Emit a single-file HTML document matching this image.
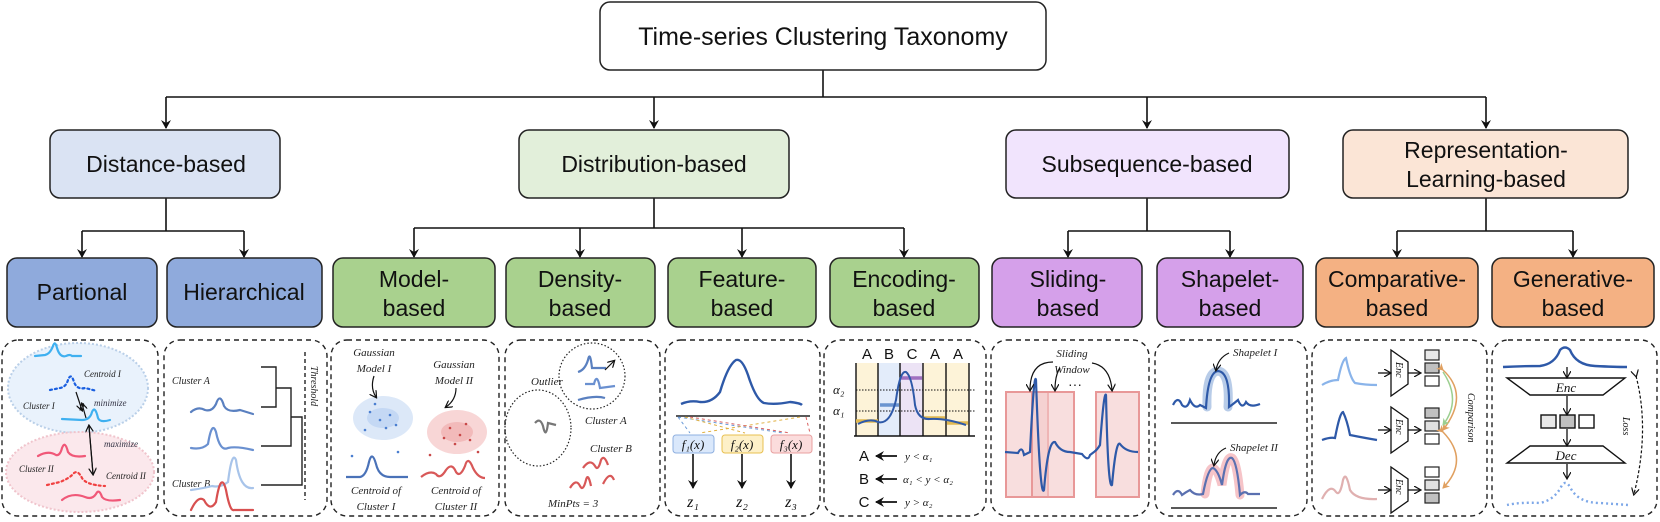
<!DOCTYPE html>
<html><head><meta charset="utf-8"><style>
html,body{margin:0;padding:0;background:#fff;}
svg{display:block;font-family:"Liberation Sans",Arial,sans-serif;}
.it{font-family:"Liberation Serif",serif;font-style:italic;}
</style></head><body>
<svg width="1660" height="522" viewBox="0 0 1660 522" xmlns="http://www.w3.org/2000/svg">
<defs>
<marker id="ah" markerWidth="10" markerHeight="10" refX="8" refY="5" orient="auto" markerUnits="userSpaceOnUse"><path d="M0,0 L9,5 L0,10 L3,5 Z" fill="#111"/></marker>
<marker id="sa" markerWidth="8" markerHeight="8" refX="6" refY="4" orient="auto" markerUnits="userSpaceOnUse"><path d="M0,0 L7,4 L0,8" fill="none" stroke="#111" stroke-width="1.2"/></marker>
<marker id="oa" markerWidth="8" markerHeight="8" refX="6" refY="4" orient="auto" markerUnits="userSpaceOnUse"><path d="M0,0 L7,4 L0,8 L2,4Z" fill="#e0a060"/></marker>
<marker id="ga" markerWidth="8" markerHeight="8" refX="6" refY="4" orient="auto" markerUnits="userSpaceOnUse"><path d="M0,0 L7,4 L0,8 L2,4Z" fill="#9ccf90"/></marker>
</defs>
<g stroke="#111" stroke-width="1.6" fill="none">
<!-- top connectors -->
<line x1="823" y1="70" x2="823" y2="97"/>
<line x1="166" y1="97" x2="1486" y2="97"/>
<line x1="166" y1="97" x2="166" y2="128" marker-end="url(#ah)"/>
<line x1="654" y1="97" x2="654" y2="128" marker-end="url(#ah)"/>
<line x1="1147" y1="97" x2="1147" y2="128" marker-end="url(#ah)"/>
<line x1="1486" y1="97" x2="1486" y2="128" marker-end="url(#ah)"/>
<!-- level 2 to 3 -->
<line x1="166" y1="198" x2="166" y2="231"/><line x1="82" y1="231" x2="244" y2="231"/>
<line x1="82" y1="231" x2="82" y2="257" marker-end="url(#ah)"/><line x1="244" y1="231" x2="244" y2="257" marker-end="url(#ah)"/>
<line x1="654" y1="198" x2="654" y2="228"/><line x1="414" y1="228" x2="904" y2="228"/>
<line x1="414" y1="228" x2="414" y2="257" marker-end="url(#ah)"/><line x1="580" y1="228" x2="580" y2="257" marker-end="url(#ah)"/>
<line x1="742" y1="228" x2="742" y2="257" marker-end="url(#ah)"/><line x1="904" y1="228" x2="904" y2="257" marker-end="url(#ah)"/>
<line x1="1147" y1="198" x2="1147" y2="231"/><line x1="1068" y1="231" x2="1230" y2="231"/>
<line x1="1068" y1="231" x2="1068" y2="257" marker-end="url(#ah)"/><line x1="1230" y1="231" x2="1230" y2="257" marker-end="url(#ah)"/>
<line x1="1486" y1="198" x2="1486" y2="231"/><line x1="1397" y1="231" x2="1573" y2="231"/>
<line x1="1397" y1="231" x2="1397" y2="257" marker-end="url(#ah)"/><line x1="1573" y1="231" x2="1573" y2="257" marker-end="url(#ah)"/>
</g>
<!-- boxes -->
<g stroke="#222" stroke-width="1.5">
<rect x="600" y="2" width="446" height="68" rx="10" fill="#fff"/>
<rect x="50" y="130" width="230" height="68" rx="10" fill="#dae3f3"/>
<rect x="519" y="130" width="270" height="68" rx="10" fill="#e2efda"/>
<rect x="1006" y="130" width="283" height="68" rx="10" fill="#f1e4fd"/>
<rect x="1343" y="130" width="285" height="68" rx="10" fill="#fbe5d6"/>
<rect x="7" y="258" width="150" height="69" rx="10" fill="#8faadc"/>
<rect x="167" y="258" width="155" height="69" rx="10" fill="#8faadc"/>
<rect x="333" y="258" width="162" height="69" rx="10" fill="#a9d18e"/>
<rect x="506" y="258" width="149" height="69" rx="10" fill="#a9d18e"/>
<rect x="668" y="258" width="148" height="69" rx="10" fill="#a9d18e"/>
<rect x="830" y="258" width="149" height="69" rx="10" fill="#a9d18e"/>
<rect x="992" y="258" width="150" height="69" rx="10" fill="#d5a0ea"/>
<rect x="1157" y="258" width="146" height="69" rx="10" fill="#d5a0ea"/>
<rect x="1316" y="258" width="162" height="69" rx="10" fill="#f4b183"/>
<rect x="1492" y="258" width="162" height="69" rx="10" fill="#f4b183"/>
</g>
<g fill="#111" text-anchor="middle">
<text x="823" y="45" font-size="25">Time-series Clustering Taxonomy</text>
<text x="166" y="172" font-size="23">Distance-based</text>
<text x="654" y="172" font-size="23">Distribution-based</text>
<text x="1147" y="172" font-size="23">Subsequence-based</text>
<text x="1486" y="158" font-size="23">Representation-</text>
<text x="1486" y="187" font-size="23">Learning-based</text>
<g font-size="23">
<text x="82" y="300">Partional</text>
<text x="244" y="300">Hierarchical</text>
<text x="414" y="287">Model-</text><text x="414" y="316">based</text>
<text x="580" y="287">Density-</text><text x="580" y="316">based</text>
<text x="742" y="287">Feature-</text><text x="742" y="316">based</text>
<text x="904" y="287">Encoding-</text><text x="904" y="316">based</text>
<text x="1068" y="287">Sliding-</text><text x="1068" y="316">based</text>
<text x="1230" y="287">Shapelet-</text><text x="1230" y="316">based</text>
<text x="1397" y="287">Comparative-</text><text x="1397" y="316">based</text>
<text x="1573" y="287">Generative-</text><text x="1573" y="316">based</text>
</g></g>
<!-- dashed panels -->
<g fill="none" stroke="#222" stroke-width="1.4" stroke-dasharray="5,4">
<rect x="2" y="340" width="156" height="176" rx="16"/>
<rect x="164" y="340" width="163" height="176" rx="16"/>
<rect x="331" y="340" width="168" height="176" rx="16"/>
<rect x="505" y="340" width="155" height="176" rx="16"/>
<rect x="665" y="340" width="155" height="176" rx="16"/>
<rect x="824" y="340" width="162" height="176" rx="16"/>
<rect x="991" y="340" width="158" height="176" rx="16"/>
<rect x="1155" y="340" width="152" height="176" rx="16"/>
<rect x="1312" y="340" width="175" height="176" rx="16"/>
<rect x="1492" y="340" width="165" height="176" rx="16"/>
</g>
<!-- Panel 1 -->
<ellipse cx="78" cy="388" rx="70" ry="45" fill="#e9f2fc" stroke="#b9cfe8" stroke-width="2" stroke-dasharray="2,2"/>
<ellipse cx="80" cy="472" rx="74" ry="40" fill="#fbe8ec" stroke="#f0c4cc" stroke-width="2" stroke-dasharray="2,2"/>
<g fill="none" stroke-width="2.2" stroke-linecap="round">
<path d="M35,356 L45,355 Q50,354 53,346 Q55,340 57,348 Q60,358 66,356 Q70,354 72,356 L81,356" stroke="#3fb0f0"/>
<path d="M50,390 L60,388 Q66,387 68,380 Q71,372 74,382 Q77,390 85,388 L97,391" stroke="#1a5fe0" stroke-dasharray="2,3"/>
<path d="M62,419 L82,420 Q90,420 92,412 Q95,405 98,418 Q100,423 110,420" stroke="#3fb0f0"/>
<path d="M38,456 Q48,450 56,455 Q60,456 62,448 Q65,440 68,452 Q72,458 85,456" stroke="#f05878"/>
<path d="M47,485 L60,482 Q70,478 74,473 Q78,470 82,478 Q86,485 105,486" stroke="#f04040" stroke-dasharray="2,3"/>
<path d="M62,500 Q72,492 85,497 Q92,500 96,494 Q99,488 102,497 Q106,502 120,500" stroke="#f05878"/>
</g>
<g stroke="#111" stroke-width="1.2" fill="none">
<line x1="76" y1="392" x2="82" y2="410" marker-end="url(#sa)"/>
<line x1="86" y1="418" x2="82" y2="404" marker-end="url(#sa)"/>
<line x1="89" y1="426" x2="93" y2="474" marker-end="url(#sa)"/>
<line x1="93" y1="474" x2="89" y2="426" marker-end="url(#sa)"/>
</g>
<g class="it" font-size="9" fill="#222">
<text x="84" y="377">Centroid I</text><text x="23" y="409">Cluster  I</text>
<text x="94" y="406" fill="#334">minimize</text><text x="104" y="447" fill="#334">maximize</text>
<text x="19" y="472">Cluster  II</text><text x="106" y="479">Centroid II</text>
</g>
<!-- Panel 2 -->
<g class="it" font-size="10" fill="#222"><text x="172" y="384">Cluster A</text><text x="172" y="520" dy="-33">Cluster B</text></g>
<text class="it" font-size="10" fill="#222" transform="translate(311,366) rotate(90)">Threshold</text>
<g fill="none" stroke-width="2.2" stroke-linecap="round">
<path d="M191,412 Q198,406 205,410 Q212,412 216,404 Q220,392 224,406 Q228,413 240,410 L253,414" stroke="#5a80c0"/>
<path d="M191,448 Q202,450 208,444 Q212,420 216,432 Q220,452 228,448 Q236,446 253,450" stroke="#6a90d0"/>
<path d="M191,490 Q205,488 212,486 Q220,488 228,482 Q232,450 236,460 Q240,490 253,488" stroke="#a8c4ea"/>
<path d="M191,510 Q198,495 204,500 Q210,512 216,502 Q221,470 226,490 Q230,512 234,510 L253,510" stroke="#d85050"/>
</g>
<g stroke="#222" stroke-width="1.4" fill="none">
<polyline points="261,367 276,367 276,407 261,407"/>
<polyline points="276,388 291,388 291,446 261,446"/>
<polyline points="291,417 302,417 302,485 261,485"/>
<line x1="302" y1="500" x2="302" y2="500"/>
<line x1="305" y1="352" x2="305" y2="500" stroke-dasharray="4,3"/>
</g>
<!-- Panel 3 -->
<g class="it" font-size="11" fill="#222" text-anchor="middle">
<text x="374" y="356">Gaussian</text><text x="374" y="372">Model I</text>
<text x="454" y="368">Gaussian</text><text x="454" y="384">Model II</text>
<text x="376" y="494">Centroid of</text><text x="376" y="510">Cluster I</text>
<text x="456" y="494">Centroid of</text><text x="456" y="510">Cluster II</text>
</g>
<ellipse cx="383" cy="418" rx="30" ry="22" fill="#dce8f8"/><ellipse cx="383" cy="418" rx="16" ry="10" fill="#c4d8f4"/>
<ellipse cx="457" cy="432" rx="30" ry="22" fill="#f8d6d6"/><ellipse cx="457" cy="432" rx="16" ry="10" fill="#f2baba"/>
<g fill="#4a7ed0"><circle cx="370" cy="412" r="1.3"/><circle cx="380" cy="420" r="1.3"/><circle cx="390" cy="415" r="1.3"/><circle cx="386" cy="428" r="1.3"/><circle cx="375" cy="404" r="1.3"/><circle cx="396" cy="425" r="1.3"/><circle cx="365" cy="430" r="1.3"/><circle cx="352" cy="456" r="1.3"/><circle cx="398" cy="452" r="1.3"/></g>
<g fill="#c84848"><circle cx="450" cy="428" r="1.3"/><circle cx="460" cy="435" r="1.3"/><circle cx="466" cy="424" r="1.3"/><circle cx="455" cy="444" r="1.3"/><circle cx="470" cy="440" r="1.3"/><circle cx="444" cy="438" r="1.3"/><circle cx="430" cy="455" r="1.3"/><circle cx="478" cy="452" r="1.3"/></g>
<g fill="none" stroke="#111" stroke-width="1.2"><path d="M374,376 Q370,388 376,397" marker-end="url(#sa)"/><path d="M456,388 Q456,400 446,407" marker-end="url(#sa)"/></g>
<g fill="none" stroke-width="2.2"><path d="M346,477 L360,477 Q366,476 369,462 Q372,450 376,464 Q379,477 390,477 L408,477" stroke="#4a72b8"/>
<path d="M421,477 Q430,470 436,474 Q440,480 446,470 Q452,462 456,472 Q460,478 465,466 Q468,455 473,468 Q478,478 485,478" stroke="#d85858"/></g>
<!-- Panel 4 -->
<ellipse cx="538" cy="428" rx="33" ry="38" fill="none" stroke="#222" stroke-width="1.2" stroke-dasharray="1.5,2"/>
<circle cx="592" cy="376" r="33" fill="none" stroke="#222" stroke-width="1.2" stroke-dasharray="1.5,2"/>
<g class="it" font-size="11" fill="#222"><text x="531" y="385">Outlier</text><text x="585" y="424">Cluster A</text><text x="590" y="452">Cluster B</text><text x="548" y="507">MinPts = 3</text></g>
<g fill="none" stroke-width="2.2"><path d="M535,423 Q540,417 543,426 Q546,440 548,423 L556,425" stroke="#777"/>
<path d="M578,372 Q585,370 588,360 Q590,350 592,368 L606,368" stroke="#5a80c0"/>
<path d="M585,384 L594,384 Q597,372 600,388 L615,386" stroke="#6a90d0"/>
<path d="M578,400 Q595,395 605,398" stroke="#5a80c0"/>
<path d="M583,468 Q590,458 595,466 Q598,472 601,460 Q604,454 608,465" stroke="#d85858"/>
<path d="M570,488 Q576,478 580,486 Q583,492 586,480 Q588,472 591,486" stroke="#d85858"/>
<path d="M603,484 Q610,470 614,480" stroke="#d85858"/></g>
<line x1="605" y1="370" x2="614" y2="361" stroke="#111" stroke-width="1.2" marker-end="url(#sa)"/>
<!-- Panel 5 -->
<path d="M681,404 Q690,400 700,402 Q712,403 720,392 Q728,365 736,360 Q742,358 748,375 Q756,400 764,403 Q775,405 790,402 Q800,403 802,405" fill="none" stroke="#2e59a8" stroke-width="2.4"/>
<line x1="676" y1="416" x2="810" y2="416" stroke="#222" stroke-width="1.6"/>
<g stroke-width="1" stroke-dasharray="3,3" fill="none"><path d="M678,417 L690,433 M678,417 L783,433" stroke="#6a9ad8"/><path d="M685,417 L745,433 M800,417 L700,433" stroke="#e0b040"/><path d="M690,417 L790,433 M806,417 L810,433" stroke="#d86060"/></g>
<rect x="673" y="435" width="41" height="18" rx="3" fill="#dae8fb" stroke="#8fb0e0"/>
<rect x="722" y="435" width="41" height="18" rx="3" fill="#fdf0c8" stroke="#e8c050"/>
<rect x="771" y="435" width="41" height="18" rx="3" fill="#fbdcdc" stroke="#e8a0a0"/>
<g class="it" font-size="13" fill="#111" text-anchor="middle"><text x="693" y="449">f₁(x)</text><text x="742" y="449">f₂(x)</text><text x="791" y="449">f₃(x)</text>
<text x="693" y="507" font-size="16">z₁</text><text x="742" y="507" font-size="16">z₂</text><text x="791" y="507" font-size="16">z₃</text></g>
<g stroke="#111" stroke-width="1.6"><line x1="693" y1="454" x2="693" y2="488" marker-end="url(#ah)"/><line x1="742" y1="454" x2="742" y2="488" marker-end="url(#ah)"/><line x1="791" y1="454" x2="791" y2="488" marker-end="url(#ah)"/></g>
<!-- Panel 6 -->
<rect x="856" y="363" width="22" height="73" fill="#fdf3d8"/><rect x="878" y="363" width="22" height="73" fill="#e3ecfa"/><rect x="900" y="363" width="23" height="73" fill="#ece3f5"/><rect x="923" y="363" width="23" height="73" fill="#fdf3d8"/><rect x="946" y="363" width="23" height="73" fill="#fdf3d8"/>
<g stroke="#111" stroke-width="1.4"><line x1="856" y1="363" x2="856" y2="436"/><line x1="878" y1="363" x2="878" y2="436"/><line x1="900" y1="363" x2="900" y2="436"/><line x1="923" y1="363" x2="923" y2="436"/><line x1="946" y1="363" x2="946" y2="436"/><line x1="969" y1="363" x2="969" y2="436"/><line x1="854" y1="436" x2="975" y2="436"/></g>
<g stroke="#111" stroke-width="1" stroke-dasharray="1.5,1.5"><line x1="856" y1="390" x2="975" y2="390"/><line x1="856" y1="411" x2="975" y2="411"/></g>
<g stroke-width="3.5"><line x1="856" y1="421" x2="878" y2="421" stroke="#e0b850"/><line x1="880" y1="405" x2="899" y2="405" stroke="#6a94d0"/><line x1="901" y1="378" x2="922" y2="378" stroke="#a070c0"/><line x1="924" y1="418" x2="945" y2="418" stroke="#e0b850"/><line x1="947" y1="423" x2="968" y2="423" stroke="#e0b850"/></g>
<path d="M858,424 Q870,418 878,422 Q890,425 896,400 Q900,370 906,372 Q912,376 915,405 Q918,420 930,419 Q945,418 966,425" fill="none" stroke="#2e59a8" stroke-width="2"/>
<g font-size="15" fill="#111" text-anchor="middle"><text x="867" y="359">A</text><text x="889" y="359">B</text><text x="912" y="359">C</text><text x="935" y="359">A</text><text x="958" y="359">A</text>
<text x="864" y="461">A</text><text x="864" y="484">B</text><text x="864" y="507">C</text></g>
<g class="it" font-size="13" fill="#111"><text x="833" y="394">α₂</text><text x="833" y="415">α₁</text>
<text x="905" y="460" font-size="11">y &lt; α₁</text><text x="903" y="483" font-size="11">α₁ &lt; y &lt; α₂</text><text x="905" y="506" font-size="11">y &gt; α₂</text></g>
<g stroke="#111" stroke-width="1.8"><line x1="897" y1="456" x2="876" y2="456" marker-end="url(#ah)"/><line x1="897" y1="479" x2="876" y2="479" marker-end="url(#ah)"/><line x1="897" y1="502" x2="876" y2="502" marker-end="url(#ah)"/></g>
<!-- Panel 7 -->
<g fill="#f4c8c8" fill-opacity="0.6" stroke="#e89898" stroke-width="2"><rect x="1006" y="392" width="42" height="105"/><rect x="1032" y="392" width="42" height="105"/><rect x="1096" y="392" width="43" height="105"/></g>
<path d="M1005,452 L1018,453 Q1022,445 1024,455 L1030,452 Q1034,370 1036,380 Q1040,500 1044,490 Q1048,440 1055,442 Q1060,452 1070,452 L1082,454 Q1088,462 1090,455 L1094,452 Q1097,450 1100,445 Q1104,390 1106,395 Q1108,490 1112,485 Q1116,440 1120,444 Q1126,452 1138,452" fill="none" stroke="#2e59a8" stroke-width="2.2"/>
<text x="1075" y="389" font-size="14" fill="#222" text-anchor="middle">···</text>
<g class="it" font-size="11" fill="#222" text-anchor="middle"><text x="1072" y="357">Sliding</text><text x="1072" y="373">Window</text></g>
<g fill="none" stroke="#111" stroke-width="1.2"><path d="M1053,362 Q1030,362 1030,390" marker-end="url(#sa)"/><path d="M1060,368 Q1055,375 1055,390" marker-end="url(#sa)"/><path d="M1092,363 Q1110,366 1112,390" marker-end="url(#sa)"/></g>
<!-- Panel 8 -->
<path d="M1207,407 Q1206,372 1218,371 Q1230,372 1228,407" fill="none" stroke="#b8cce8" stroke-width="9" stroke-linecap="round"/>
<path d="M1173,405 Q1178,395 1182,405 Q1187,410 1190,400 Q1195,410 1200,405 L1206,408 Q1208,372 1218,371 Q1230,372 1229,407 Q1232,405 1238,400 Q1242,410 1246,402 Q1250,408 1260,404" fill="none" stroke="#2e59a8" stroke-width="2.2"/>
<line x1="1171" y1="423" x2="1277" y2="423" stroke="#222" stroke-width="1.4"/>
<path d="M1205,494 Q1208,468 1213,468 Q1218,470 1222,485 Q1226,455 1232,458 Q1237,462 1240,495" fill="none" stroke="#f6c4c8" stroke-width="9" stroke-linecap="round"/>
<path d="M1173,495 Q1178,487 1182,495 Q1186,492 1190,490 Q1195,496 1203,494 Q1208,468 1213,468 Q1218,470 1222,485 Q1226,455 1232,458 Q1237,462 1240,495 Q1245,490 1248,494 L1260,494" fill="none" stroke="#5a70b0" stroke-width="2.2"/>
<line x1="1171" y1="508" x2="1277" y2="508" stroke="#222" stroke-width="1.4"/>
<g class="it" font-size="11" fill="#222"><text x="1233" y="356">Shapelet I</text><text x="1230" y="451">Shapelet II</text></g>
<g fill="none" stroke="#111" stroke-width="1.2"><path d="M1229,353 Q1218,358 1216,370" marker-end="url(#sa)"/><path d="M1226,448 Q1216,452 1214,465" marker-end="url(#sa)"/></g>
<!-- Panel 9 -->
<g fill="none" stroke-width="2.2"><path d="M1322,385 Q1330,380 1338,380 Q1342,360 1346,358 Q1350,378 1355,383 Q1365,385 1377,385" stroke="#8ab4ea"/>
<path d="M1322,440 Q1330,437 1335,438 Q1340,412 1343,412 Q1347,420 1350,435 Q1365,438 1377,440" stroke="#2e59a8"/>
<path d="M1322,499 Q1330,483 1336,492 Q1340,497 1343,480 Q1346,470 1350,490 Q1356,500 1377,499" stroke="#e0b0b0"/></g>
<g stroke="#111" stroke-width="1.3" fill="#fff"><path d="M1391,350 L1408,362 L1408,384 L1391,396Z"/><path d="M1391,407 L1408,419 L1408,441 L1391,453Z"/><path d="M1391,467 L1408,479 L1408,501 L1391,513Z"/></g>
<g class="it" font-size="10" fill="#111"><text transform="translate(1396,362) rotate(90)">Enc</text><text transform="translate(1396,419) rotate(90)">Enc</text><text transform="translate(1396,479) rotate(90)">Enc</text>
<text transform="translate(1468,393) rotate(90)">Comparison</text></g>
<g stroke="#111" stroke-width="1.3"><line x1="1378" y1="373" x2="1390" y2="373" marker-end="url(#sa)"/><line x1="1408" y1="373" x2="1420" y2="373" marker-end="url(#sa)"/><line x1="1378" y1="430" x2="1390" y2="430" marker-end="url(#sa)"/><line x1="1408" y1="430" x2="1420" y2="430" marker-end="url(#sa)"/><line x1="1378" y1="490" x2="1390" y2="490" marker-end="url(#sa)"/><line x1="1408" y1="490" x2="1420" y2="490" marker-end="url(#sa)"/></g>
<g stroke="#222" stroke-width="1.2"><rect x="1425" y="350" width="14" height="10" fill="#e8e8e8"/><rect x="1425" y="363" width="14" height="10" fill="#c0c0c0"/><rect x="1425" y="376" width="14" height="10" fill="#fff"/>
<rect x="1425" y="408" width="14" height="10" fill="#c0c0c0"/><rect x="1425" y="421" width="14" height="10" fill="#e0e0e0"/><rect x="1425" y="434" width="14" height="10" fill="#fff"/>
<rect x="1425" y="467" width="14" height="10" fill="#fff"/><rect x="1425" y="480" width="14" height="10" fill="#e0e0e0"/><rect x="1425" y="493" width="14" height="10" fill="#c0c0c0"/></g>
<g fill="none" stroke-width="1.5"><path d="M1443,370 Q1470,395 1443,430" stroke="#e0a060" marker-start="url(#oa)" marker-end="url(#oa)"/><path d="M1443,372 Q1462,400 1443,425" stroke="#9ccf90" marker-end="url(#ga)"/><path d="M1443,432 Q1470,460 1443,488" stroke="#e0a060" marker-start="url(#oa)" marker-end="url(#oa)"/></g>
<!-- Panel 10 -->
<path d="M1503,367 Q1520,366 1540,366 Q1555,364 1560,350 Q1565,345 1570,350 Q1576,365 1595,366 Q1615,367 1627,367" fill="none" stroke="#2e59a8" stroke-width="2.4"/>
<path d="M1507,505 Q1520,502 1540,503 Q1555,500 1562,485 Q1566,480 1570,487 Q1578,503 1600,503 Q1615,504 1628,505" fill="none" stroke="#7ea8e8" stroke-width="2.4" stroke-dasharray="2,3"/>
<g stroke="#111" stroke-width="1.4" fill="#fff"><path d="M1507,378 L1625,378 L1603,395 L1530,395Z"/><path d="M1530,446 L1603,446 L1625,463 L1507,463Z"/>
<rect x="1541" y="415" width="15" height="13" fill="#e8e8e8"/><rect x="1560" y="415" width="15" height="13" fill="#c0c0c0"/><rect x="1579" y="415" width="15" height="13"/></g>
<g class="it" font-size="13" fill="#111" text-anchor="middle"><text x="1566" y="392">Enc</text><text x="1566" y="460">Dec</text></g>
<text class="it" font-size="10" fill="#111" transform="translate(1623,417) rotate(90)">Loss</text>
<g stroke="#111" stroke-width="1.3"><line x1="1567" y1="367" x2="1567" y2="377" marker-end="url(#sa)"/><line x1="1567" y1="396" x2="1567" y2="414" marker-end="url(#sa)"/><line x1="1567" y1="429" x2="1567" y2="445" marker-end="url(#sa)"/><line x1="1567" y1="464" x2="1567" y2="478" marker-end="url(#sa)"/></g>
<path d="M1636,376 Q1650,430 1634,494" fill="none" stroke="#111" stroke-width="1.2" stroke-dasharray="3,2" marker-start="url(#sa)" marker-end="url(#sa)"/>
</svg>
</body></html>
